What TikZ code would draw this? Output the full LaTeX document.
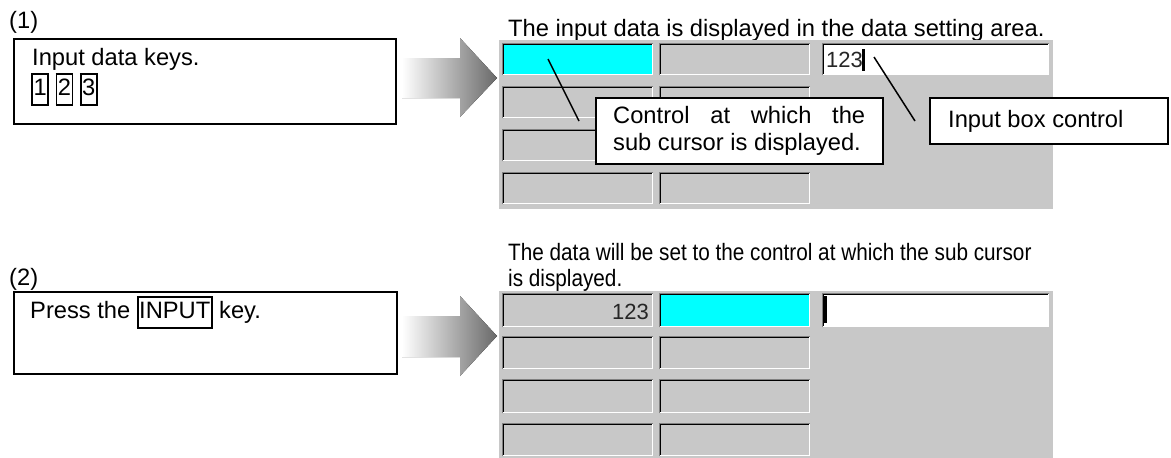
\documentclass[tikz,border=0pt]{standalone}
\usepackage{fontspec}
\setmainfont{Liberation Sans}
\newfontfamily\condfont[FakeStretch=0.875]{Liberation Sans}
\definecolor{panelgray}{RGB}{200,200,200}
\definecolor{cellcyan}{RGB}{0,255,255}
\definecolor{arrowgray}{RGB}{105,105,105}
\definecolor{edgegray}{RGB}{128,128,128}
\newcommand\keybox[1]{{\setlength\fboxsep{0.6pt}\setlength\fboxrule{1.7pt}\fbox{\strut#1}}}
\newcommand\sunkcell[6]{%
  \node[cellnode, fill=#6, minimum width=#4, minimum height=#5] (#1) at (#2,#3) {};
  \draw[edgegray, line width=1pt] (#1.south west) -- (#1.north west) -- (#1.north east);
  \draw[black, line width=1.8pt] ([xshift=1.4pt]#1.south west) -- ([xshift=1.4pt,yshift=-1.4pt]#1.north west) -- ([yshift=-1.4pt]#1.north east);
  \draw[white, line width=1.6pt] ([xshift=1pt,yshift=0.8pt]#1.south west) -- ([xshift=-0.8pt,yshift=0.8pt]#1.south east) -- ([xshift=-0.8pt,yshift=-1pt]#1.north east);
}
\begin{document}
\begin{tikzpicture}[x=1pt,y=-1pt,
  font=\fontsize{23.7pt}{28pt}\selectfont,
  cellnode/.style={draw=none, inner sep=0, anchor=north west},
  panelbox/.style={draw=black, line width=1.5pt, fill=white, inner sep=0, anchor=north west},
  txt/.style={anchor=base west, inner sep=0},
  leader/.style={draw=black, line width=1.5pt},
  shadearrow/.style={left color=white, right color=arrowgray}
]
\useasboundingbox (0,0) rectangle (1171,458);

% ---------- step (1) ----------
\node[txt] (n1) at (9,28) {(1)};
\node[panelbox, minimum width=382, minimum height=85] (b1) at (13,38) {};
\node[txt] (b1t) at (32,65) {Input data keys.};
\node[txt] (b1k) at (31,95) {\keybox{1} \keybox{2} \keybox{3}};

\fill[shadearrow] (402,58) -- (460,58) -- (460,38) -- (497,78) -- (460,117) -- (460,98) -- (402,98) -- cycle;

\node[txt] (h1) at (508,36) {The input data is displayed in the data setting area.};
\fill[panelgray] (499,40) rectangle (1053,209);

\sunkcell{a11}{502}{43}{151}{32}{cellcyan}
\sunkcell{a12}{659}{43}{151}{32}{panelgray}
\sunkcell{a13}{822}{43}{227}{32}{white}
\sunkcell{a21}{502}{86}{151}{32}{panelgray}
\sunkcell{a22}{659}{86}{151}{32}{panelgray}
\sunkcell{a31}{502}{129}{151}{32}{panelgray}
\sunkcell{a32}{659}{129}{151}{32}{panelgray}
\sunkcell{a41}{502}{172}{151}{32}{panelgray}
\sunkcell{a42}{659}{172}{151}{32}{panelgray}

\node[txt, font=\fontsize{22pt}{24pt}\selectfont, text=black!85] (v1) at (826,67) {123};
\fill[black] (862,49) rectangle (865,71);

\node[panelbox, minimum width=287, minimum height=66] (c1) at (595,97) {};
\node[txt] (c1a) at (613,123) {\makebox[252pt][s]{Control at which the}};
\node[txt] (c1b) at (613,150) {sub cursor is displayed.};

\node[panelbox, minimum width=238, minimum height=46] (c2) at (929,97) {};
\node[txt] (c2a) at (948,127) {Input box control};

\coordinate (l1a) at (548,59);
\coordinate (l1b) at (579,121);
\draw[leader] (l1a) -- (l1b);
\coordinate (l2a) at (874,57);
\coordinate (l2b) at (915,121);
\draw[leader] (l2a) -- (l2b);

% ---------- step (2) ----------
\node[txt] (n2) at (9,285) {(2)};
\node[panelbox, minimum width=383, minimum height=82] (b2) at (13,291) {};
\node[txt] (b2t) at (30,318) {Press the \keybox{INPUT} key.};

\fill[shadearrow] (402,316) -- (460,316) -- (460,296) -- (497,336) -- (460,376) -- (460,357) -- (402,357) -- cycle;

\node[txt, font=\condfont\fontsize{23.7pt}{28pt}\selectfont] (h2a) at (508,260) {The data will be set to the control at which the sub cursor};
\node[txt, font=\condfont\fontsize{23.7pt}{28pt}\selectfont] (h2b) at (508,286) {is displayed.};
\fill[panelgray] (499,291) rectangle (1053,458);

\sunkcell{d11}{502}{293}{151}{34}{panelgray}
\sunkcell{d12}{659}{293}{151}{34}{cellcyan}
\sunkcell{d13}{822}{293}{227}{34}{white}
\sunkcell{d21}{502}{336}{151}{33}{panelgray}
\sunkcell{d22}{659}{336}{151}{33}{panelgray}
\sunkcell{d31}{502}{379}{151}{34}{panelgray}
\sunkcell{d32}{659}{379}{151}{34}{panelgray}
\sunkcell{d41}{502}{423}{151}{33}{panelgray}
\sunkcell{d42}{659}{423}{151}{33}{panelgray}

\node[anchor=base east, inner sep=0, font=\fontsize{22pt}{24pt}\selectfont, text=black!85] (v2) at (649,319) {123};
\fill[black] (824,296) rectangle (827,323);
\end{tikzpicture}
\end{document}
